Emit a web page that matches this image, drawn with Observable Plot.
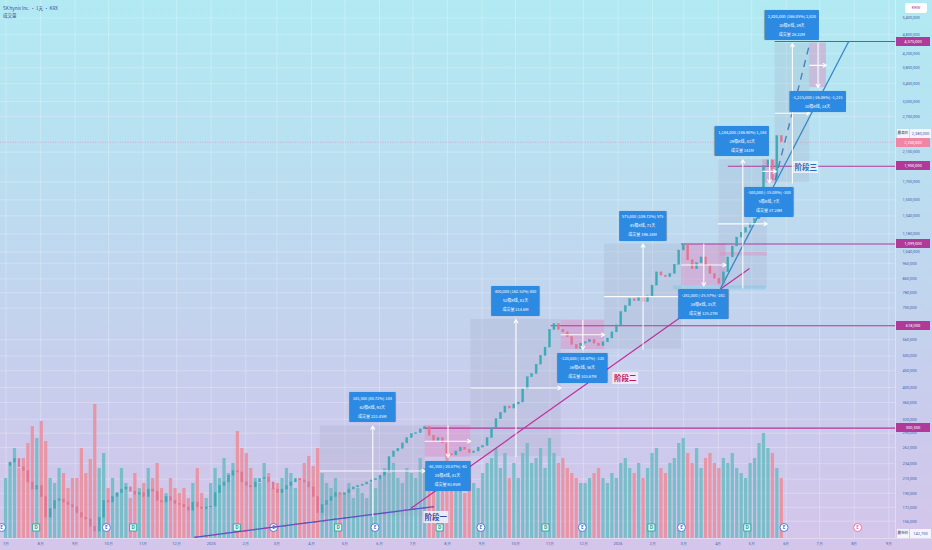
<!DOCTYPE html>
<html><head><meta charset="utf-8">
<script src="https://cdn.jsdelivr.net/npm/d3@7"></script>
<script src="https://cdn.jsdelivr.net/npm/@observablehq/plot@0.6"></script>
<style>
html,body{margin:0;padding:0;}
#wrap{position:relative;width:932px;height:550px;overflow:hidden;
 background:linear-gradient(180deg,#b1eaf2 0%,#b8e1f1 25%,#c2d4ee 55%,#cccaec 80%,#d4c6ea 100%);
 font-family:Roboto,"Noto Sans CJK SC",sans-serif;}
.layer{position:absolute;left:0;top:0;}
.layer svg{display:block;}
.ml{position:absolute;background:#2d8ae2;color:#fff;font-size:4px;line-height:9px;text-align:center;padding:1.5px 3px;white-space:nowrap;border-radius:1px;box-shadow:0 0 1px rgba(0,0,0,0.3);font-family:"Noto Sans CJK SC",sans-serif;}
.ax{position:absolute;height:9px;line-height:9px;font-size:4px;text-align:center;white-space:nowrap;}
.ph{position:absolute;font-size:7.5px;font-weight:700;line-height:12px;padding:0 1.5px;transform:translate(-50%,-50%);white-space:nowrap;font-family:"Noto Sans CJK SC",sans-serif;}
.tt{position:absolute;left:3px;font-size:4.5px;color:#3b4ea0;white-space:nowrap;font-family:"Noto Sans CJK SC",sans-serif;}
</style></head><body>
<div id="wrap">
 <div class="layer" id="g"></div>
 <div class="layer" id="v"></div>
 <div class="layer" id="p"></div>
</div>
<script>
// ---------- data ----------
const startDate = "2024-07-01";
const stepDays = 4;
const closeK = [
230,236,242,228,222,205,195,200,
185,160,170,180,182,178,175,172,
165,160,158,150,145,160,180,
178,185,190,195,198,192,188,190,
185,195,192,180,178,185,180,176,
175,172,168,178,172,170,172,
173,190,200,205,215,222,220,205,
200,198,205,210,212,205,195,
190,195,200,205,210,208,205,198,
185,165,175,180,185,190,188,
190,195,198,200,202,205,208,210,
215,220,245,255,260,270,280,288,
290,298,303,285,275,280,270,
250,248,255,262,258,252,255,262,
265,280,300,320,335,350,345,355,
360,395,430,440,470,500,530,
600,625,600,590,570,540,525,545,
550,560,545,535,550,565,590,620,
680,710,745,735,750,730,760,
820,900,880,870,890,950,1050,
1090,980,920,960,1000,940,890,860,
830,900,1000,1080,1150,1190,1230,1270,
1310,1550,1900,1980,1720,2350,2250
];
const volumeM = [
6.0,7.5,9.0,7.0,8.0,9.5,11.2,10.0,
11.7,9.7,6.0,5.5,7.0,6.5,5.0,6.0,
6.0,9.0,6.5,7.9,13.4,7.0,8.5,
5.0,6.0,4.5,7.0,5.5,4.0,6.5,5.0,
5.5,7.0,6.0,7.5,5.0,4.5,6.0,5.0,
4.5,5.0,4.0,5.5,7.0,4.5,4.0,
5.5,7.0,6.0,8.0,6.5,7.5,10.7,9.0,
8.5,7.0,6.0,5.5,7.5,6.5,5.0,
5.5,6.0,7.0,6.5,5.0,6.0,7.5,8.2,
7.2,9.0,6.5,5.5,5.0,6.0,4.5,
4.5,5.5,4.0,5.0,4.5,4.0,5.5,5.0,
6.0,7.0,6.5,7.5,6.0,5.5,7.0,6.5,
6.0,8.0,7.0,5.5,5.0,6.5,7.5,
9.5,7.0,5.5,5.0,4.5,6.0,5.5,5.0,
6.5,7.5,8.0,9.0,7.0,8.5,6.0,7.5,
6.0,8.5,9.5,7.5,8.0,9.0,7.0,
10.0,8.5,7.5,8.0,7.0,6.5,6.0,5.5,
5.5,6.0,6.5,7.0,6.0,5.5,6.5,6.0,
7.5,8.0,7.0,6.5,7.5,6.0,7.0,
8.5,9.0,7.0,6.5,7.5,8.0,9.5,
10.0,8.5,7.5,9.0,7.0,8.0,8.5,7.5,
7.0,8.0,7.5,8.5,7.0,6.5,6.0,7.5,
8.0,9.5,10.5,9.0,8.5,7.0,6.0
];
const monthTicks = ["2024-07-01","2024-08-01","2024-09-01","2024-10-01","2024-11-01","2024-12-01",
 "2025-01-01","2025-02-01","2025-03-01","2025-04-01","2025-05-01","2025-06-01","2025-07-01","2025-08-01",
 "2025-09-01","2025-10-01","2025-11-01","2025-12-01","2026-01-01","2026-02-01","2026-03-01","2026-04-01",
 "2026-05-01","2026-06-01","2026-07-01","2026-08-01","2026-09-01"];
const yTicks = [156000,172000,190000,210000,234000,262000,290000,320000,360000,400000,450000,500000,560000,
 700000,780000,860000,960000,1040000,1180000,1340000,1500000,1700000,2100000,2700000,3000000,
 3400000,3800000,4200000,4800000,5400000];
// measure tools
const mStart = ["2025-04-09","2025-07-12","2025-08-22","2025-11-11","2025-12-20","2026-02-27","2026-04-01","2026-05-11","2026-05-22","2026-06-22"];
const mEnd   = ["2025-07-12","2025-08-22","2025-11-11","2025-12-20","2026-02-27","2026-04-08","2026-05-15","2026-05-23","2026-06-22","2026-07-07"];
const mFrom  = [161700,306500,246000,643000,524000,1099000,806000,1989000,1690000,4523000];
const mTo    = [305200,245000,646000,523000,1099000,818000,1990000,1689000,4510000,3308000];
const mLine1 = ["143,500 (88.72%) 144","-61,500 (-20.07%) -61","400,000 (162.52%) 400","-120,000 (-18.67%) -120","575,000 (109.72%) 575","-281,000 (-25.57%) -281","1,184,000 (146.90%) 1,184","-300,000 (-15.08%) -300","2,820,000 (166.85%) 2,820","-1,215,000 (-26.86%) -1,215"];
const mLine2 = ["62根K线, 93天","28根K线, 41天","52根K线, 81天","36根K线, 56天","45根K线, 71天","34根K线, 35天","29根K线, 43天","5根K线, 7天","20根K线, 29天","10根K线, 14天"];
const mLine3 = ["成交量 221.45M","成交量 93.95M","成交量 214.6M","成交量 103.67M","成交量 196.38M","成交量 125.27M","成交量 141M","成交量 37.24M","成交量 26.22M",""];
// horizontal levels
const levelPrice = [300500,618000,1099000,1900000,4575000];
const levelLabel = ["300,500","618,000","1,099,000","1,900,000","4,575,000"];
const levelStart = ["2025-07-11","2025-11-02","2026-02-27","2026-04-10","2026-05-22"];
// trend lines [date1, price1, date2, price2]
const trendA = ["2024-12-17",139300,"2025-07-20",173000];
const trendB = ["2025-06-29",170600,"2026-04-29",925000];
const trendC = ["2026-04-03",803000,"2026-07-27",4575000];
const projection = ["2026-05-22",1720000,"2026-06-22",4510000];
// bands
const bandStart = ["2026-02-20","2026-04-03"], bandEnd = ["2026-05-14","2026-05-15"];
const bandHi = [818000,1035000], bandLo = [795000,1010000];
const bandColor = ["#7cc3e6","#e58cc0"];
// phase labels
const phaseText = ["阶段一","阶段二","阶段三"];
const phaseDate = ["2025-07-22","2026-01-08","2026-06-19"];
const phasePrice = [160600,426000,1890000];
const phaseColor = ["#3b4ba8","#c2185b","#1f6fbf"];
// events
const eventDate = ["2024-06-27","2024-07-28","2024-09-29","2024-10-23","2025-01-24","2025-02-26","2025-04-25","2025-05-28","2025-07-25","2025-08-31","2025-10-28","2025-11-30","2026-01-31","2026-02-27","2026-04-27","2026-05-30","2026-08-04"];
const eventType = ["E","D","E","D","D","E","D","E","D","E","D","E","D","E","D","E","F"];
const highPrice = 2380000, lowPrice = 142700, lastPrice = 2250000;

// ---------- build ----------
const D = s => new Date(s + "T00:00:00Z");
const DAY = 864e5;
const xDomain = [D("2024-06-26"), D("2026-09-07")];
const yDomain = [138150, 6107000];
const W=932,H=550,ML=0,MR=37,MT=0,MB=12;
const UP="#3eaab6", DN="#e27590";

const candles = closeK.map((c,i)=>{
  const open = (i ? closeK[i-1] : c)*1000, close = c*1000;
  return {date: d3.utcDay.offset(D(startDate), i*stepDays), open, close, vol: volumeM[i], up: close>=open};
});
const measures = mStart.map((s,i)=>({s:D(s), e:D(mEnd[i]), from:mFrom[i], to:mTo[i], up:mTo[i]>mFrom[i],
  mid:new Date((D(s).getTime()+D(mEnd[i]).getTime())/2), gm:Math.sqrt(mFrom[i]*mTo[i])}));
const levels = levelPrice.map((p,i)=>({p, start:D(levelStart[i])}));
const toLine = a => ({x1:D(a[0]), y1:a[1], x2:D(a[2]), y2:a[3]});
const fmtMonth = d => d.getUTCMonth()===0 ? String(d.getUTCFullYear()) : (d.getUTCMonth()+1)+"月";
const common = {width:W,height:H,marginLeft:ML,marginRight:MR,marginTop:MT,marginBottom:MB};

const gridChart = Plot.plot({...common,
  x:{type:"utc",domain:xDomain,axis:null}, y:{type:"log",domain:yDomain,axis:null},
  style:{background:"transparent"},
  marks:[
    Plot.ruleX(monthTicks.map(D),{stroke:"#ffffff",strokeOpacity:0.32,strokeWidth:0.8}),
    Plot.ruleY(yTicks,{stroke:"#ffffff",strokeOpacity:0.32,strokeWidth:0.8})
  ]});
document.getElementById("g").appendChild(gridChart);

const events = eventDate.map((d,i)=>({date:D(d), t:eventType[i]}));
const evStroke = t => t==="D" ? "#2aa198" : t==="F" ? "#e06aa8" : "#3f6fd0";
const volChart = Plot.plot({...common,
  x:{type:"utc",domain:xDomain,axis:null}, y:{domain:[0,53.8],axis:null},
  style:{background:"transparent"},
  marks:[
    Plot.rect(candles,{x1:d=>new Date(+d.date-1.45*DAY), x2:d=>new Date(+d.date+1.45*DAY), y1:()=>0, y2:"vol",
      fill:d=>d.up?"#6cbcc4":"#ec8d9c", fillOpacity:0.88}),
    Plot.dot(events,{x:"date", y:()=>1.1, r:4, fill:d=>d.t==="D"?"#e6f6f4":"#ffffff", stroke:d=>evStroke(d.t), strokeWidth:0.9, symbol:d=>d.t==="D"?"square":"circle"}),
    Plot.text(events,{x:"date", y:()=>1.1, text:d=>d.t==="F"?"E":d.t, fill:d=>evStroke(d.t), fontSize:4.5, fontWeight:"bold"})
  ]});
document.getElementById("v").appendChild(volChart);

const priceChart = Plot.plot({...common,
  x:{type:"utc",domain:xDomain}, y:{type:"log",domain:yDomain},
  style:{background:"transparent", color:"#4563b0", fontFamily:"Roboto, sans-serif"},
  marks:[
    Plot.rect(measures,{x1:"s",x2:"e",y1:"from",y2:"to",fill:d=>d.up?"#9ca2bc":"#e27ab8",fillOpacity:d=>d.up?0.2:0.38}),
    Plot.rect(bandStart.map((s,i)=>({s:D(s),e:D(bandEnd[i]),hi:bandHi[i],lo:bandLo[i],c:bandColor[i]})),
      {x1:"s",x2:"e",y1:"lo",y2:"hi",fill:"c",fillOpacity:0.45}),
    Plot.ruleY([lastPrice],{stroke:"#e77fa5",strokeOpacity:0.7,strokeWidth:0.7,strokeDasharray:"1,1.5"}),
    Plot.ruleY(levels,{y:"p",x1:"start",x2:()=>xDomain[1],stroke:"#b2389b",strokeWidth:1.1}),
    Plot.link([toLine(trendA)],{x1:"x1",y1:"y1",x2:"x2",y2:"y2",stroke:"#3d5cc8",strokeWidth:1.3}),
    Plot.link([toLine(trendA)],{x1:"x1",y1:"y1",x2:"x2",y2:"y2",stroke:"#c2389a",strokeWidth:1.3,strokeDasharray:"3,7"}),
    Plot.link([toLine(trendB)],{x1:"x1",y1:"y1",x2:"x2",y2:"y2",stroke:"#c2309a",strokeWidth:1.2}),
    Plot.link([toLine(trendC)],{x1:"x1",y1:"y1",x2:"x2",y2:"y2",stroke:"#3588c6",strokeWidth:1.3}),
    Plot.rect(candles,{x1:d=>new Date(+d.date-0.9*DAY), x2:d=>new Date(+d.date+0.9*DAY), y1:"open", y2:"close",
      fill:d=>d.up?UP:DN, stroke:d=>d.up?UP:DN, strokeWidth:0.4}),
    Plot.link([toLine(projection)],{x1:"x1",y1:"y1",x2:"x2",y2:"y2",stroke:"#4a7fc0",strokeWidth:1.4,strokeDasharray:"7,6"}),
    Plot.arrow(measures,{x1:"mid",x2:"mid",y1:"from",y2:"to",stroke:"#ffffff",strokeWidth:1.1,headLength:5,strokeOpacity:0.95}),
    Plot.arrow(measures,{x1:"s",x2:"e",y1:"gm",y2:"gm",stroke:"#ffffff",strokeWidth:1.1,headLength:5,strokeOpacity:0.95}),
    Plot.axisY(yTicks,{anchor:"right",tickSize:0,tickPadding:7,tickFormat:d3.format(","),fontSize:4}),
    Plot.axisX(monthTicks.map(D),{anchor:"bottom",tickSize:0,tickPadding:4,tickFormat:fmtMonth,fontSize:4})
  ]});
document.getElementById("p").appendChild(priceChart);

// ---------- overlays positioned through the Plot scales ----------
function scaleFn(chart, name){
  const s = chart.scale(name);
  if (s && typeof s.apply === "function") return v => s.apply(v);
  const f = (s.type==="log"?d3.scaleLog():s.type==="utc"?d3.scaleUtc():d3.scaleLinear()).domain(s.domain).range(s.range);
  return v => f(v);
}
const X = scaleFn(priceChart,"x"), Y = scaleFn(priceChart,"y");
const wrap = document.getElementById("wrap");
function add(cls, html, css){ const d=document.createElement("div"); d.className=cls; d.innerHTML=html; Object.assign(d.style,css); wrap.appendChild(d); return d; }

// separators
add("", "", {position:"absolute",left:"895px",top:"0",width:"1px",height:"538px",background:"rgba(255,255,255,0.35)"});
add("", "", {position:"absolute",left:"0",top:"538px",width:"932px",height:"1px",background:"rgba(255,255,255,0.35)"});

// measure labels
measures.forEach((m,i)=>{
  const cx = X(m.mid);
  const lines = [mLine1[i], mLine2[i], mLine3[i]].filter(t=>t).join("<br>");
  if (m.up) add("ml", lines, {left:cx+"px", top:(Y(Math.max(m.from,m.to))-3)+"px", transform:"translate(-50%,-100%)"});
  else add("ml", lines, {left:cx+"px", top:(Y(Math.min(m.from,m.to))+4)+"px", transform:"translate(-50%,0)"});
});
// phase labels
phaseText.forEach((t,i)=>{
  add("ph", t, {left:X(D(phaseDate[i]))+"px", top:Y(phasePrice[i])+"px", color:phaseColor[i],
    background: i===1 ? "rgba(247,236,246,0.85)" : "rgba(238,244,252,0.85)"});
});
// axis highlighted level labels
levelPrice.forEach((p,i)=>{
  add("ax", levelLabel[i], {left:"896px", width:"34px", top:(Y(p)-4.5)+"px", background:"#b0399a", color:"#fff"});
});
// high / last / low labels
add("ax","最高价",{left:"897px",width:"12px",top:(Y(highPrice)-4.5)+"px",background:"#f4f4fa",color:"#333",fontSize:"3.6px"});
add("ax",d3.format(",")(highPrice),{left:"910px",width:"21px",top:(Y(highPrice)-4.5)+"px",background:"#f4f4fa",color:"#4563b0"});
add("ax",d3.format(",")(lastPrice),{left:"896px",width:"34px",top:(Y(lastPrice)-4)+"px",background:"#ef86a3",color:"#fff"});
add("ax","最低价",{left:"897px",width:"12px",top:(Y(lowPrice)-4.5)+"px",background:"#f4f4fa",color:"#333",fontSize:"3.6px"});
add("ax",d3.format(",")(lowPrice),{left:"910px",width:"21px",top:(Y(lowPrice)-4.5)+"px",background:"#f4f4fa",color:"#4563b0"});
add("ax","KRW",{left:"905px",width:"22px",top:"3px",height:"10px",background:"#ffffff",color:"#b0399a",borderRadius:"2px"});
// title
add("tt","SK hynix Inc. · 1天 · KRX",{top:"5px"});
add("tt","成交量",{top:"12px"});
</script>
</body></html>
